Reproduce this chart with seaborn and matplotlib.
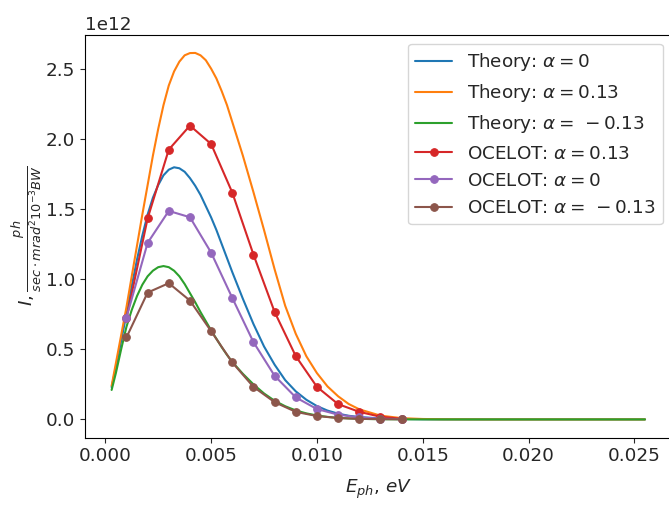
import matplotlib
matplotlib.use("Agg")
import matplotlib.pyplot as plt
import seaborn as sns

# Intensities are stored in units of 1e12 ph/(sec*mrad^2*0.1%BW)
SCALE = 1e12

# Analytical spectra on a photon-energy grid (eV)
theory_e = [0.0003, 0.0005, 0.00075, 0.001, 0.00125, 0.0015, 0.00175, 0.002,
            0.00225, 0.0025, 0.00275, 0.003, 0.00325, 0.0035, 0.00375, 0.004,
            0.00425, 0.0045, 0.00475, 0.005, 0.00525, 0.0055, 0.00575, 0.006,
            0.0065, 0.007, 0.0075, 0.008, 0.0085, 0.009, 0.0095, 0.010,
            0.0105, 0.011, 0.0115, 0.012, 0.013, 0.014, 0.015, 0.016,
            0.018, 0.020, 0.0255]
theory_a0 = [0.23, 0.37, 0.56, 0.75, 0.95, 1.14, 1.31, 1.46,
             1.58, 1.67, 1.74, 1.78, 1.797, 1.79, 1.765, 1.72,
             1.665, 1.60, 1.52, 1.44, 1.35, 1.25, 1.15, 1.05,
             0.86, 0.68, 0.52, 0.39, 0.28, 0.20, 0.14, 0.095,
             0.063, 0.041, 0.026, 0.017, 0.007, 0.003, 0.001, 0.0003,
             0.0, 0.0, 0.0]
theory_a_pos = [0.24, 0.40, 0.60, 0.80, 1.02, 1.24, 1.46, 1.67,
                1.88, 2.07, 2.24, 2.38, 2.48, 2.55, 2.595, 2.611,
                2.612, 2.595, 2.56, 2.50, 2.43, 2.34, 2.24, 2.12,
                1.88, 1.62, 1.35, 1.07, 0.81, 0.61, 0.45, 0.33,
                0.235, 0.165, 0.11, 0.072, 0.027, 0.009, 0.003, 0.001,
                0.0, 0.0, 0.0]
theory_a_neg = [0.21, 0.33, 0.50, 0.66, 0.78, 0.88, 0.96, 1.02,
                1.06, 1.085, 1.093, 1.085, 1.06, 1.02, 0.965, 0.90,
                0.835, 0.765, 0.70, 0.635, 0.575, 0.515, 0.46, 0.41,
                0.325, 0.25, 0.185, 0.133, 0.094, 0.064, 0.043, 0.028,
                0.018, 0.011, 0.007, 0.004, 0.0015, 0.0005, 0.0002, 0.0,
                0.0, 0.0, 0.0]

# OCELOT simulation results
ocelot_e = [0.001, 0.002, 0.003, 0.004, 0.005, 0.006, 0.007,
            0.008, 0.009, 0.010, 0.011, 0.012, 0.013, 0.014]
ocelot_a_pos = [0.72, 1.432, 1.923, 2.094, 1.963, 1.617, 1.175,
                0.766, 0.451, 0.232, 0.109, 0.054, 0.019, 0.004]
ocelot_a0 = [0.726, 1.258, 1.486, 1.441, 1.189, 0.866, 0.551,
             0.311, 0.157, 0.074, 0.034, 0.014, 0.005, 0.002]
ocelot_a_neg = [0.584, 0.904, 0.971, 0.847, 0.629, 0.406, 0.232,
                0.123, 0.054, 0.024, 0.010, 0.004, 0.002, 0.001]

sns.set_style("white")
plt.rcParams["font.family"] = ["DejaVu Sans"]
plt.rcParams["font.size"] = 13.2
plt.rcParams["mathtext.fontset"] = "dejavusans"

fig = plt.figure(figsize=(6.69, 5.09), dpi=100)
ax = fig.add_axes([0.127, 0.140, 0.877, 0.792])

pal = sns.color_palette("tab10")

theory = [
    (theory_a0, r"Theory: $\alpha = 0$", pal[0]),
    (theory_a_pos, r"Theory: $\alpha = 0.13$", pal[1]),
    (theory_a_neg, r"Theory: $\alpha =\,-0.13$", pal[2]),
]
for vals, lab, col in theory:
    sns.lineplot(x=theory_e, y=[v * SCALE for v in vals], color=col,
                 label=lab, linewidth=1.5, sort=False, ax=ax)

ocelot = [
    (ocelot_a_pos, r"OCELOT: $\alpha = 0.13$", pal[3]),
    (ocelot_a0, r"OCELOT: $\alpha = 0$", pal[4]),
    (ocelot_a_neg, r"OCELOT: $\alpha =\,-0.13$", pal[5]),
]
for vals, lab, col in ocelot:
    sns.lineplot(x=ocelot_e, y=[v * SCALE for v in vals], color=col,
                 label=lab, linewidth=1.5, marker="o", markersize=5.5,
                 markeredgecolor=col, sort=False, ax=ax)

ax.set_xticks([0.0, 0.005, 0.010, 0.015, 0.020, 0.025])
ax.set_xlabel(r"$E_{ph}$, $eV$", labelpad=9)
ax.set_ylabel(r"$I, \frac{ph}{sec \cdot mrad^2 10^{-3}BW}$", labelpad=1)
ax.tick_params(axis="both", which="major", length=3.5, width=0.8,
               direction="out", bottom=True, left=True)
for s in ax.spines.values():
    s.set_color("black")
    s.set_linewidth(0.8)

ax.legend(loc="upper right")

fig.savefig("out.png", dpi=100)
